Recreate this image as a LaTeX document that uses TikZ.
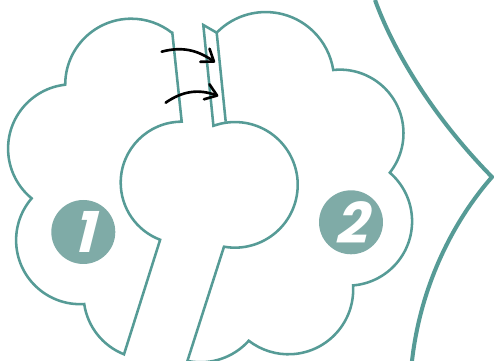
\documentclass[tikz,border=0pt]{standalone}
\usepackage{fontspec}
\usetikzlibrary{arrows.meta}
\newfontfamily\digitfont[FakeSlant=0.25]{Poppins}
\definecolor{tealline}{HTML}{569B96}
\definecolor{tealfill}{HTML}{7FABA7}

\begin{document}
\begin{tikzpicture}[
      x=0.02cm,
      y=0.02cm,
      piece/.style={
        draw=tealline,
        line width=1.45pt
      },
      edge/.style={
        draw=tealline,
        line width=2.3pt
      },
      badge/.style={
        circle,
        fill=tealfill,
        text=white,
        inner sep=0pt,
        minimum size=1.28cm,
        font=\digitfont\bfseries\fontsize{32}{32}\selectfont
      },
      arr/.style={-{Straight Barb[length=2.2mm,width=3.2mm,round]}, line width=1.5pt, line cap=round}
    ]
    \clip (0,0) rectangle (494,361);
    
    % left piece
    \draw[piece] (172.3,328.3) -- (181.7,239.3)
      arc[start angle=90,end angle=249.3,radius=61]
      -- (124,6.7)
      arc[start angle=248.4,end angle=188.3,radius=64]
      arc[start angle=273.7,end angle=139.2,radius=64]
      arc[start angle=230.7,end angle=96.4,radius=64.3]
      arc[start angle=180,end angle=52.1,radius=66]
      -- cycle;
    
    % right piece
    \draw[piece] (187.4,0) -- (224,114.3)
      arc[start angle=260,end angle=470,radius=62.8]
      -- (203.3,336) -- (216.7,328.3)
      arc[start angle=135.7,end angle=8.8,radius=68.4]
      arc[start angle=96,end angle=-38.3,radius=63.6]
      arc[start angle=49.2,end angle=-85.3,radius=64.3]
      arc[start angle=3.6,end angle=-127.7,radius=64.8]
      arc[start angle=-42,end angle=-100,radius=65]
      -- cycle;
    \draw[piece] (216.7,328.3) -- (225.7,239.3);
    
    \draw[edge] (375,361) .. controls (395,306) and (436,241) .. (492,184)
      .. controls (450,136) and (420,71) .. (412,0);
    
    \node[badge] (one) at (83.3,129) {1};
    \node[badge] (two) at (351,138.7) {2};
    
    \coordinate (upperFrom) at (161.7,309.3);
    \coordinate (upperTo) at (215,298.7);
    \coordinate (lowerFrom) at (165.7,258.3);
    \coordinate (lowerTo) at (218.3,265);
    \draw[arr] (upperFrom) to[out=15,in=145] (upperTo);
    \draw[arr] (lowerFrom) to[out=35,in=160] (lowerTo);
    \end{tikzpicture}
\end{document}
